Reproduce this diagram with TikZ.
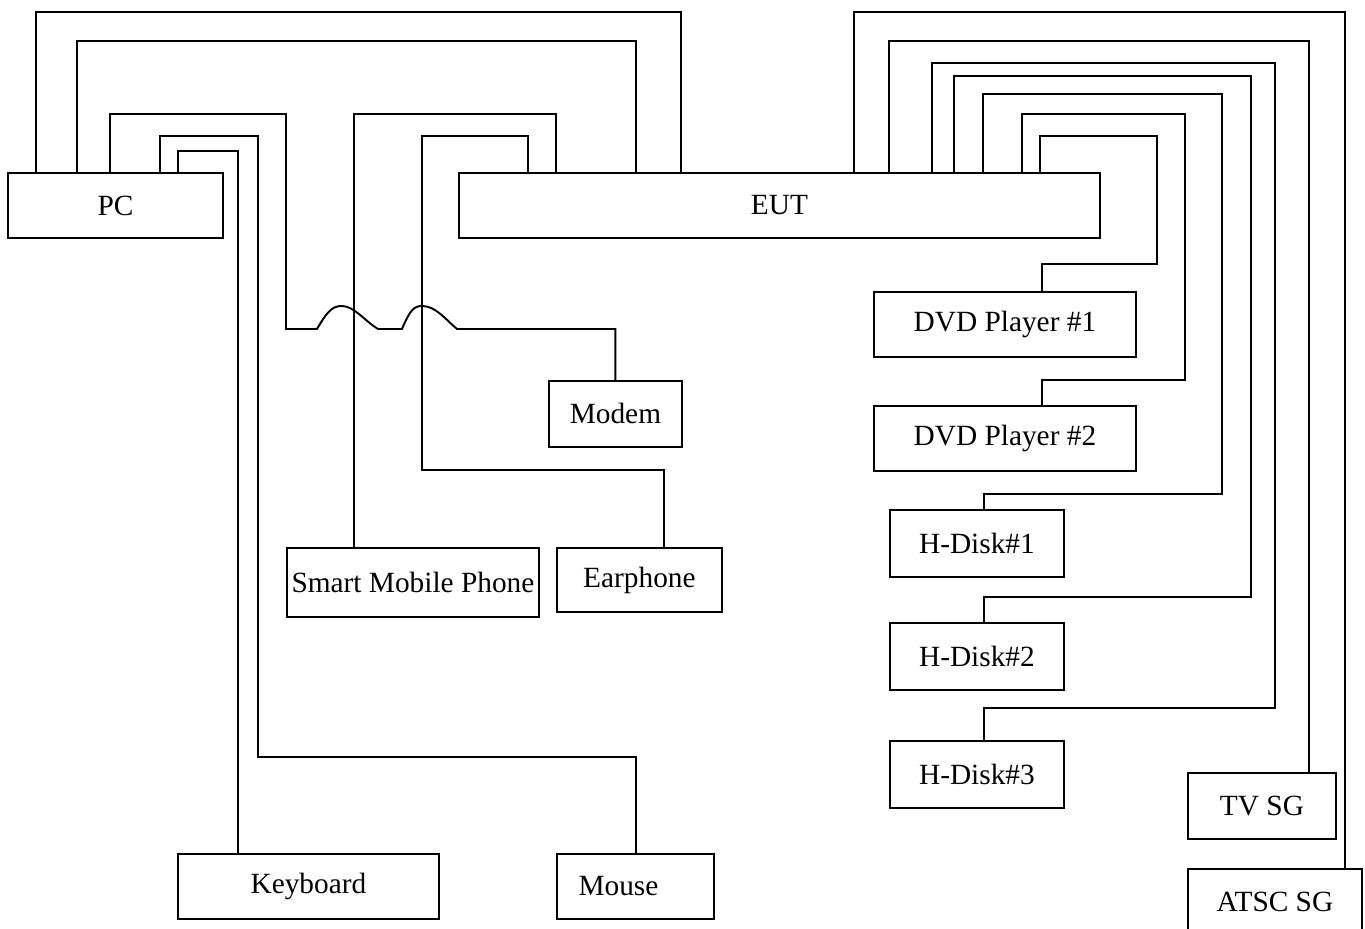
\documentclass[tikz,border=0pt]{standalone}
\usepackage{fontspec}
\setmainfont{Liberation Serif}
\usetikzlibrary{calc}

\begin{document}
\begin{tikzpicture}[
    x=0.02cm, y=-0.02cm,
    unit/.style={draw, line width=1.1pt, anchor=north west, inner sep=0pt,
      minimum height=1.3cm, font=\fontsize{16.7}{20}\selectfont},
    link/.style={line width=1.1pt},
]
\useasboundingbox (0,0) rectangle (1365,929);
\clip (0,0) rectangle (1365,929);

\node[unit, minimum width=4.3cm] (pc) at (7,172) {PC};
\node[unit, minimum width=12.82cm] (eut) at (458,172) {EUT};
\node[unit, minimum width=2.66cm, minimum height=1.32cm] (modem) at (548,380) {Modem};
\node[unit, minimum width=5.04cm, minimum height=1.38cm] (phone) at (286,547) {Smart Mobile Phone};
\node[unit, minimum width=3.3cm, minimum height=1.28cm] (earphone) at (556,547) {Earphone};
\node[unit, minimum width=5.22cm] (keyboard) at (177,853) {Keyboard};
\node[unit, minimum width=3.14cm] (mouse) at (556,853) {Mouse\rule{0.68cm}{0pt}};

\node[unit, minimum width=5.24cm] (dvda) at (873,291) {DVD Player \#1};
\node[unit, minimum width=5.24cm] (dvdb) at (873,405) {DVD Player \#2};
\node[unit, minimum width=3.48cm, minimum height=1.34cm] (hda) at (889,509) {H-Disk\#1};
\node[unit, minimum width=3.48cm, minimum height=1.34cm] (hdb) at (889,622) {H-Disk\#2};
\node[unit, minimum width=3.48cm, minimum height=1.34cm] (hdc) at (889,740) {H-Disk\#3};
\node[unit, minimum width=2.96cm, minimum height=1.32cm] (tvsg) at (1187,772) {TV SG};
\node[unit, minimum width=3.48cm] (atsc) at (1187,868) {ATSC SG};

\draw[link] ($(pc.north west)+(29,0)$) -- ++(0,-160) -| ($(eut.north west)+(223,0)$);
\draw[link] ($(pc.north west)+(70,0)$) -- ++(0,-131) -| ($(eut.north west)+(178,0)$);
\draw[link] ($(pc.north west)+(103,0)$) |- (286,114) -- (286,329) -- (317,329)
  .. controls (328,310) and (333,306) .. (342,306)
  .. controls (354,306) and (366,322) .. (378,329) -- (402,329)
  .. controls (410,310) and (414,306) .. (422,306)
  .. controls (436,306) and (446,320) .. (457,329) -| (modem.north);
\draw[link] ($(pc.north west)+(153,0)$) |- (258,136) -- (258,757) -| ($(mouse.north west)+(80,0)$);
\draw[link] ($(pc.north west)+(171,0)$) |- (238,151) -| ($(keyboard.north west)+(61,0)$);

\draw[link] ($(phone.north west)+(68,0)$) |- (556,114) -| ($(eut.north west)+(98,0)$);
\draw[link] ($(earphone.north west)+(108,0)$) |- (422,470) |- (528,136) -| ($(eut.north west)+(70,0)$);

\draw[link] ($(eut.north west)+(396,0)$) |- (1345,12) -| ($(atsc.north west)+(158,0)$);
\draw[link] ($(eut.north west)+(431,0)$) |- (1309,41) -| ($(tvsg.north west)+(122,0)$);
\draw[link] ($(eut.north west)+(474,0)$) |- (1275,63) |- (984,708) -| ($(hdc.north west)+(95,0)$);
\draw[link] ($(eut.north west)+(496,0)$) |- (1251,76) |- (984,597) -| ($(hdb.north west)+(95,0)$);
\draw[link] ($(eut.north west)+(525,0)$) |- (1222,94) |- (984,494) -| ($(hda.north west)+(95,0)$);
\draw[link] ($(eut.north west)+(564,0)$) |- (1185,114) |- (1042,380) -| ($(dvdb.north west)+(169,0)$);
\draw[link] ($(eut.north west)+(582,0)$) |- (1157,136) |- (1042,264) -| ($(dvda.north west)+(169,0)$);

\end{tikzpicture}
\end{document}
